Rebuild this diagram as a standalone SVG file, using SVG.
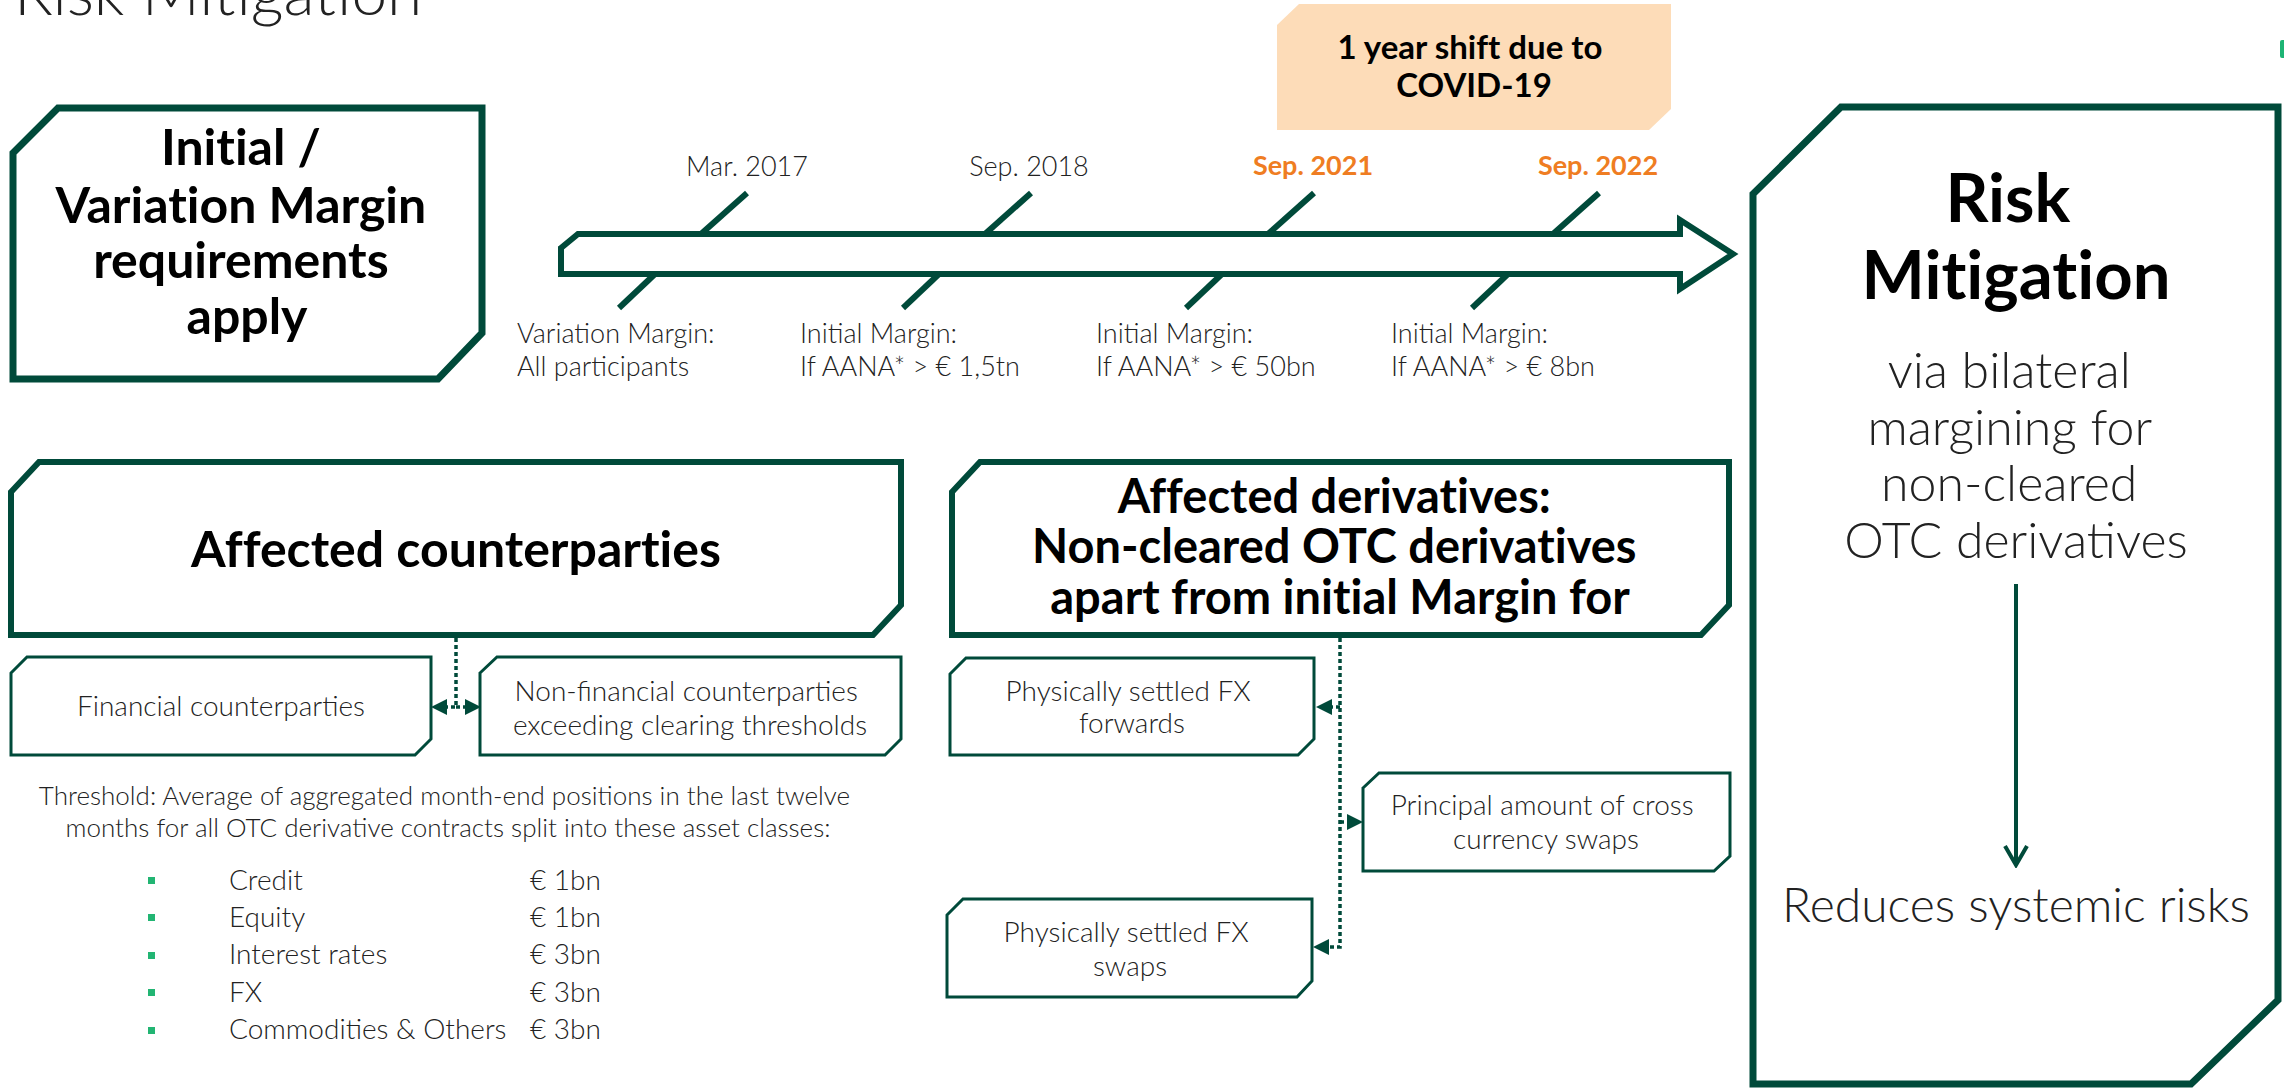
<svg xmlns="http://www.w3.org/2000/svg" width="2284" height="1088" viewBox="0 0 2284 1088">
  <style>
    .bg { fill: #ffffff; }
    .frame { fill: #ffffff; stroke: #004a3a; stroke-width: 7; stroke-linejoin: miter; }
    .card { fill: #ffffff; stroke: #004a3a; stroke-width: 3; stroke-linejoin: miter; }
    .note { fill: #fddcb8; }
    .tick { stroke: #004a3a; stroke-width: 6; fill: none; }
    .dots { fill: none; stroke: #004a3a; stroke-width: 3.5; stroke-dasharray: 4 3; }
    .solid { fill: none; stroke: #004a3a; stroke-width: 4; }
    .head { font-family: Lato, "Liberation Sans", sans-serif; font-weight: 700; fill: #000000; text-anchor: middle; font-variant-ligatures: no-common-ligatures; }
    .body { font-family: Lato, "Liberation Sans", sans-serif; font-weight: 300; fill: #222222; }
    .mid { text-anchor: middle; }
    .date { font-family: Lato, "Liberation Sans", sans-serif; font-size: 27px; text-anchor: middle; }
    .bullet { fill: #22b573; }
  </style>
  <defs>
    <marker id="tri" viewBox="0 0 16 16" refX="0" refY="8" markerWidth="16" markerHeight="16" markerUnits="userSpaceOnUse" orient="auto">
      <path d="M0,0 L16,8 L0,16 Z" fill="#004a3a"/>
    </marker>
    <marker id="chevron" viewBox="0 0 24 26" refX="21" refY="13" markerWidth="24" markerHeight="26" markerUnits="userSpaceOnUse" orient="auto">
      <path d="M2,2 L21,13 L2,24" fill="none" stroke="#004a3a" stroke-width="4"/>
    </marker>
  </defs>

  <rect class="bg" x="0" y="0" width="2284" height="1088"/>

  <!-- page heading, partly above the top edge -->
  <text class="body" x="14" y="15" font-size="64" fill="#222222">Risk Mitigation</text>

  <!-- small brand mark at the right edge -->
  <rect x="2280" y="40" width="6" height="18" rx="2" fill="#1db474"/>

  <!-- requirements box -->
  <g id="node-requirements">
    <path class="frame" d="M13,153 L58,108 L482,108 L482,333 L438,379 L13,379 Z"/>
    <text class="head" font-size="50">
      <tspan x="247" y="165">Initial /</tspan>
      <tspan x="247" y="223">Variation Margin</tspan>
      <tspan x="247" y="278">requirements</tspan>
      <tspan x="247" y="334">apply</tspan>
    </text>
  </g>

  <!-- COVID note -->
  <g id="node-covid">
    <path class="note" d="M1277,25 L1299,4 L1671,4 L1671,109 L1649,130 L1277,130 Z"/>
    <text class="head" font-size="33">
      <tspan x="1474" y="59">1 year shift due to</tspan>
      <tspan x="1474" y="97">COVID-19</tspan>
    </text>
  </g>

  <!-- timeline -->
  <g id="node-timeline">
    <path class="frame" style="stroke-width:6" d="M561,248 L578,234 L1680,234 L1680,220 L1733,254 L1680,289 L1680,274 L561,274 Z"/>
    <g class="tick">
      <line x1="701" y1="234" x2="747" y2="193"/>
      <line x1="985" y1="234" x2="1031" y2="193"/>
      <line x1="1268" y1="234" x2="1314" y2="193"/>
      <line x1="1553" y1="234" x2="1599" y2="193"/>
      <line x1="655" y1="274" x2="619" y2="308"/>
      <line x1="939" y1="274" x2="903" y2="308"/>
      <line x1="1222" y1="274" x2="1186" y2="308"/>
      <line x1="1508" y1="274" x2="1472" y2="308"/>
    </g>
    <text class="date" x="747" y="176" font-weight="300" fill="#222222">Mar. 2017</text>
    <text class="date" x="1029" y="176" font-weight="300" fill="#222222">Sep. 2018</text>
    <text class="date" x="1313" y="175" font-weight="700" fill="#ef7d22">Sep. 2021</text>
    <text class="date" x="1598" y="175" font-weight="700" fill="#ef7d22">Sep. 2022</text>
    <text class="body" font-size="27">
      <tspan x="517" y="343">Variation Margin:</tspan>
      <tspan x="517" y="376">All participants</tspan>
    </text>
    <text class="body" font-size="27">
      <tspan x="800" y="343">Initial Margin:</tspan>
      <tspan x="800" y="376">If AANA* &gt; € 1,5tn</tspan>
    </text>
    <text class="body" font-size="27">
      <tspan x="1096" y="343">Initial Margin:</tspan>
      <tspan x="1096" y="376">If AANA* &gt; € 50bn</tspan>
    </text>
    <text class="body" font-size="27">
      <tspan x="1391" y="343">Initial Margin:</tspan>
      <tspan x="1391" y="376">If AANA* &gt; € 8bn</tspan>
    </text>
  </g>

  <!-- risk mitigation summary -->
  <g id="node-risk">
    <path class="frame" d="M1753,194 L1841,107 L2278,107 L2278,1000 L2191,1084 L1753,1084 Z"/>
    <text class="head" font-size="67">
      <tspan x="2016" y="222">Risk</tspan>
      <tspan x="2016" y="299">Mitigation</tspan>
    </text>
    <text class="body mid" font-size="50" fill="#111111">
      <tspan x="2016" y="388">via bilateral</tspan>
      <tspan x="2016" y="445">margining for</tspan>
      <tspan x="2016" y="501">non-cleared</tspan>
      <tspan x="2016" y="558">OTC derivatives</tspan>
    </text>
    <text class="body mid" font-size="48" fill="#111111" x="2016" y="922">Reduces systemic risks</text>
  </g>

  <!-- counterparties -->
  <g id="node-counterparties">
    <path class="frame" style="stroke-width:6" d="M11,492 L39,462 L901,462 L901,605 L873,635 L11,635 Z"/>
    <text class="head" font-size="50" x="456" y="567">Affected counterparties</text>
  </g>
  <g id="node-financial">
    <path class="card" d="M11,673 L27,657 L431,657 L431,739 L415,755 L11,755 Z"/>
    <text class="body mid" font-size="28" x="221" y="716">Financial counterparties</text>
  </g>
  <g id="node-nonfinancial">
    <path class="card" d="M480,673 L497,657 L901,657 L901,739 L885,755 L480,755 Z"/>
    <text class="body mid" font-size="28">
      <tspan x="690" y="701">Non-financial counterparties</tspan>
      <tspan x="690" y="735">exceeding clearing thresholds</tspan>
    </text>
  </g>

  <!-- threshold explanation and asset classes -->
  <g id="node-thresholds">
    <text class="body mid" font-size="26" fill="#333333">
      <tspan x="448" y="805">Threshold: Average of aggregated month-end positions in the last twelve</tspan>
      <tspan x="448" y="837">months for all OTC derivative contracts split into these asset classes:</tspan>
    </text>
    <rect class="bullet" x="148" y="877" width="7" height="7"/>
    <rect class="bullet" x="148" y="914" width="7" height="7"/>
    <rect class="bullet" x="148" y="952" width="7" height="7"/>
    <rect class="bullet" x="148" y="989" width="7" height="7"/>
    <rect class="bullet" x="148" y="1027" width="7" height="7"/>
    <text class="body" font-size="28" fill="#000000">
      <tspan x="229" y="890">Credit</tspan>
      <tspan x="229" y="927">Equity</tspan>
      <tspan x="229" y="964">Interest rates</tspan>
      <tspan x="229" y="1002">FX</tspan>
      <tspan x="229" y="1039">Commodities &amp; Others</tspan>
    </text>
    <text class="body" font-size="28" fill="#000000">
      <tspan x="530" y="890">€ 1bn</tspan>
      <tspan x="530" y="927">€ 1bn</tspan>
      <tspan x="530" y="964">€ 3bn</tspan>
      <tspan x="530" y="1002">€ 3bn</tspan>
      <tspan x="530" y="1039">€ 3bn</tspan>
    </text>
  </g>

  <!-- derivatives -->
  <g id="node-derivatives">
    <path class="frame" style="stroke-width:6" d="M952,492 L980,462 L1729,462 L1729,605 L1701,635 L952,635 Z"/>
    <text class="head" font-size="47">
      <tspan x="1340" y="513">Affected derivatives:</tspan>
      <tspan x="1340" y="563">Non-cleared OTC derivatives</tspan>
      <tspan x="1340" y="614">apart from initial Margin for</tspan>
    </text>
  </g>
  <g id="node-fx-forwards">
    <path class="card" d="M950,674 L966,658 L1314,658 L1314,739 L1298,755 L950,755 Z"/>
    <text class="body mid" font-size="28">
      <tspan x="1132" y="701">Physically settled FX</tspan>
      <tspan x="1132" y="733">forwards</tspan>
    </text>
  </g>
  <g id="node-cross-currency">
    <path class="card" d="M1363,788 L1379,773 L1730,773 L1730,856 L1714,871 L1363,871 Z"/>
    <text class="body mid" font-size="28">
      <tspan x="1546" y="815">Principal amount of cross</tspan>
      <tspan x="1546" y="849">currency swaps</tspan>
    </text>
  </g>
  <g id="node-fx-swaps">
    <path class="card" d="M947,915 L963,899 L1312,899 L1312,981 L1297,997 L947,997 Z"/>
    <text class="body mid" font-size="28">
      <tspan x="1130" y="942">Physically settled FX</tspan>
      <tspan x="1130" y="976">swaps</tspan>
    </text>
  </g>

  <!-- connectors -->
  <g id="connectors">
    <path class="dots" d="M456,638 V707 H447" marker-end="url(#tri)"/>
    <path class="dots" d="M456,707 H465" marker-end="url(#tri)"/>
    <path class="dots" d="M1340,638 V947 H1329" marker-end="url(#tri)"/>
    <path class="dots" d="M1340,707 H1332" marker-end="url(#tri)"/>
    <path class="dots" d="M1340,822 H1347" marker-end="url(#tri)"/>
    <path class="solid" d="M2016,584 V865" marker-end="url(#chevron)"/>
  </g>
</svg>
